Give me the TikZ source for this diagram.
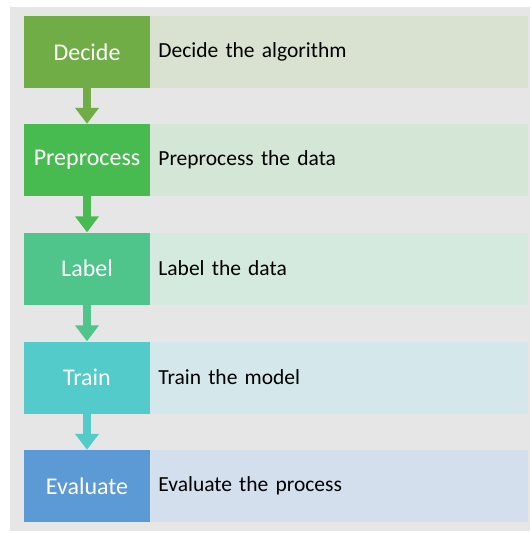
\documentclass[tikz,border=0pt]{standalone}
\usepackage{fontspec}
\setmainfont{Carlito}
\usetikzlibrary{positioning,arrows.meta}

\definecolor{bggray}{HTML}{E6E6E6}
\definecolor{decideC}{HTML}{70AD47}
\definecolor{decideL}{HTML}{D9E2D1}
\definecolor{prepC}{HTML}{48BB50}
\definecolor{prepL}{HTML}{D4E6D5}
\definecolor{labelC}{HTML}{4FC58B}
\definecolor{labelL}{HTML}{D4EADF}
\definecolor{trainC}{HTML}{54CBCB}
\definecolor{trainL}{HTML}{D4E8EC}
\definecolor{evalC}{HTML}{5B9AD5}
\definecolor{evalL}{HTML}{D4DFEE}

\tikzset{
  stepbox/.style={minimum width=126pt, minimum height=72pt, inner sep=0pt,
    text=white, font=\fontsize{24}{28}\selectfont},
  descbox/.style={minimum height=72pt, inner sep=8pt, text width=362pt,
    align=left, text=black, font=\fontsize{21.5}{26}\selectfont},
  flow/.style={line width=8pt, -{Triangle[width=23pt,length=16pt]}}
}

\begin{document}
\begin{tikzpicture}[x=1pt,y=1pt]
  \useasboundingbox (0,0) rectangle (530,-534);
  %background
  \fill[bggray] (10,-7) rectangle (530,-531);

  %first step
  \node[stepbox, fill=decideC] (decide) at (87,-52) {Decide};
  \node[descbox, fill=decideL, right=0pt of decide] (decideT) {Decide the algorithm};
  %second step
  \node[stepbox, fill=prepC] (prep) at (87,-160) {Preprocess};
  \node[descbox, fill=prepL, right=0pt of prep] (prepT) {Preprocess the data};
  %third step
  \node[stepbox, fill=labelC] (label) at (87,-268.5) {Label};
  \node[descbox, fill=labelL, right=0pt of label] (labelT) {Label the data};
  %fourth step
  \node[stepbox, fill=trainC] (train) at (87,-377.5) {Train};
  \node[descbox, fill=trainL, right=0pt of train] (trainT) {Train the model};
  %fifth step
  \node[stepbox, fill=evalC] (eval) at (87,-486) {Evaluate};
  \node[descbox, fill=evalL, right=0pt of eval] (evalT) {Evaluate the process};

  %arrows
  \draw[flow, decideC] (decide) -- (prep);
  \draw[flow, prepC] (prep) -- (label);
  \draw[flow, labelC] (label) -- (train);
  \draw[flow, trainC] (train) -- (eval);

\end{tikzpicture}
\end{document}
